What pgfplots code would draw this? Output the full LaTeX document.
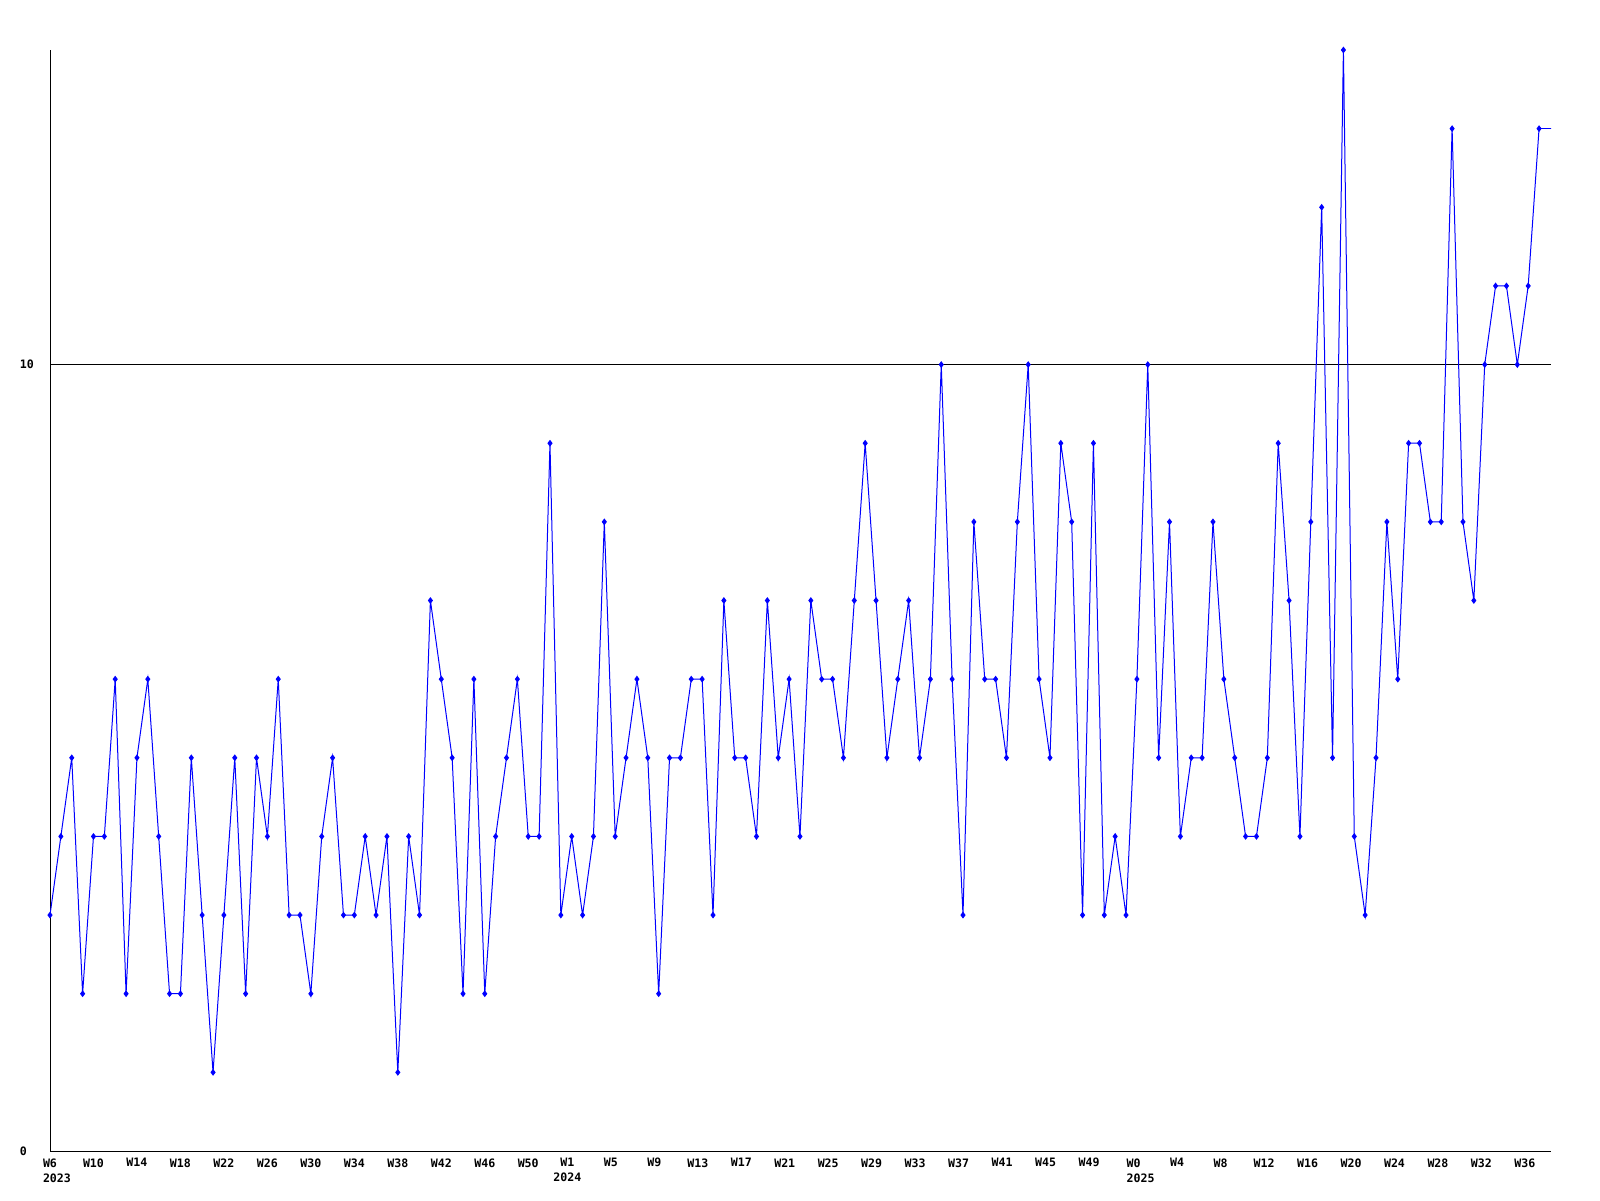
\documentclass[border=0pt]{standalone}
\usepackage{fontspec}
\setmonofont{DejaVu Sans Mono}
\usepackage{pgfplots}
\usepackage{pgfplotstable}
\pgfplotsset{compat=1.18}

% weekly counts, 2023-W6 .. 2025-W37 (index = bucket number)
\pgfplotstableread{
idx val
0 3
1 4
2 5
3 2
4 4
5 4
6 6
7 2
8 5
9 6
10 4
11 2
12 2
13 5
14 3
15 1
16 3
17 5
18 2
19 5
20 4
21 6
22 3
23 3
24 2
25 4
26 5
27 3
28 3
29 4
30 3
31 4
32 1
33 4
34 3
35 7
36 6
37 5
38 2
39 6
40 2
41 4
42 5
43 6
44 4
45 4
46 9
47 3
48 4
49 3
50 4
51 8
52 4
53 5
54 6
55 5
56 2
57 5
58 5
59 6
60 6
61 3
62 7
63 5
64 5
65 4
66 7
67 5
68 6
69 4
70 7
71 6
72 6
73 5
74 7
75 9
76 7
77 5
78 6
79 7
80 5
81 6
82 10
83 6
84 3
85 8
86 6
87 6
88 5
89 8
90 10
91 6
92 5
93 9
94 8
95 3
96 9
97 3
98 4
99 3
100 6
101 10
102 5
103 8
104 4
105 5
106 5
107 8
108 6
109 5
110 4
111 4
112 5
113 9
114 7
115 4
116 8
117 12
118 5
119 14
120 4
121 3
122 5
123 8
124 6
125 9
126 9
127 8
128 8
129 13
130 8
131 7
132 10
133 11
134 11
135 10
136 11
137 13
}\weekly

\begin{document}
\begin{tikzpicture}
\path[use as bounding box] (0,0) rectangle (800pt,600pt);
\begin{axis}[
    at={(25pt,24.5pt)}, anchor=south west,
    width=750.5pt, height=550.5pt, scale only axis,
    xmin=0, xmax=138.1, ymin=0, ymax=14,
    axis x line=bottom, axis y line=left,
    axis line style={-, black, line width=0.5pt},
    major tick length=0pt,
    ytick={0,10}, yticklabels={0,10},
    ymajorgrids, major grid style={black, line width=0.5pt},
    yticklabel style={anchor=west, inner sep=0pt, xshift=-15.25pt},
    xtick={0,4,8,12,16,20,24,28,32,36,40,44,
        47.6,51.6,55.6,59.6,63.6,67.6,71.6,75.6,79.6,83.6,87.6,91.6,95.6,
        99.7,103.7,107.7,111.7,115.7,119.7,123.7,127.7,131.7,135.7},
    xticklabels={{W6\\\rlap{2023}\hphantom{W6}},W10,W14,W18,W22,W26,W30,W34,W38,W42,W46,W50,
        {W1\\2024},W5,W9,W13,W17,W21,W25,W29,W33,W37,W41,W45,W49,
        {W0\\\rlap{2025}\hphantom{W0}},W4,W8,W12,W16,W20,W24,W28,W32,W36},
    xticklabel style={anchor=north, align=center, inner sep=0pt, yshift=-3.5pt},
    tick label style={font=\ttfamily\bfseries\fontsize{5.8}{7.5}\selectfont},
]
\addplot[color={rgb,255:red,0;green,0;blue,255}, line width=0.5pt, mark=diamond*,
    mark size=1.3pt] table[x=idx, y=val] {\weekly};
\addplot[color={rgb,255:red,0;green,0;blue,255}, line width=0.5pt, no marks]
    coordinates {(137,13) (139,13)};
\end{axis}
\end{tikzpicture}
\end{document}
